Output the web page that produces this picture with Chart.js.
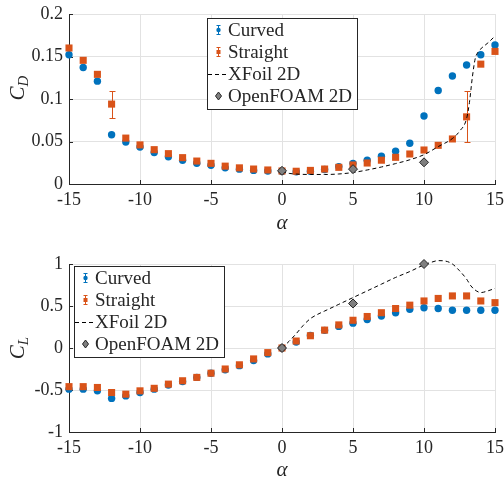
<!DOCTYPE html>
<html>
<head>
<meta charset="utf-8">
<script src="https://cdn.jsdelivr.net/npm/chart.js@4.4.1/dist/chart.umd.min.js"></script>
<style>
  html, body { margin: 0; padding: 0; background: #fff; }
  #wrap { position: relative; width: 504px; height: 480px; }
  canvas { position: absolute; left: 0; }
</style>
</head>
<body>
<div id="wrap">
  <canvas id="cd-chart" width="504" height="240" style="top:0"></canvas>
  <canvas id="cl-chart" width="504" height="240" style="top:240px"></canvas>
</div>
<script>
// angle of attack for the experiments
const alpha = [-15, -14, -13, -12, -11, -10, -9, -8, -7, -6, -5, -4, -3, -2, -1,
  0, 1, 2, 3, 4, 5, 6, 7, 8, 9, 10, 11, 12, 13, 14, 15];

const cdCurved = [0.152, 0.137, 0.121, 0.058, 0.0495, 0.0435, 0.037, 0.032, 0.028, 0.0245,
  0.022, 0.019, 0.0175, 0.016, 0.0153, 0.0148, 0.0145, 0.015, 0.017, 0.0205,
  0.0243, 0.028, 0.0326, 0.0385, 0.048, 0.080, 0.110, 0.127, 0.140, 0.152, 0.1635];
const cdStraight = [0.160, 0.1455, 0.129, 0.094, 0.054, 0.046, 0.0404, 0.0357, 0.031, 0.027,
  0.0243, 0.021, 0.019, 0.0176, 0.0165, 0.0153, 0.015, 0.016, 0.0176, 0.0196,
  0.0224, 0.0247, 0.028, 0.0314, 0.0353, 0.040, 0.0455, 0.053, 0.079, 0.141, 0.156];

const clCurved = [-0.49, -0.49, -0.51, -0.60, -0.57, -0.53, -0.49, -0.44, -0.40, -0.35,
  -0.30, -0.26, -0.21, -0.15, -0.07, 0.0, 0.07, 0.15, 0.21, 0.257,
  0.296, 0.34, 0.38, 0.42, 0.46, 0.48, 0.47, 0.45, 0.45, 0.45, 0.45];
const clStraight = [-0.46, -0.46, -0.47, -0.53, -0.55, -0.51, -0.48, -0.43, -0.39, -0.35,
  -0.30, -0.25, -0.20, -0.13, -0.055, 0.0, 0.083, 0.146, 0.213, 0.275,
  0.33, 0.375, 0.42, 0.47, 0.51, 0.56, 0.59, 0.62, 0.62, 0.56, 0.54];

// error bars on the straight blade drag
const errAlpha = [-12, 13];
const cdErrLow = [0.078, 0.049];
const cdErrHigh = [0.110, 0.109];

// XFoil 2D curves
const xfoilAlphaCD = [0, 0.5, 1, 2, 3, 4, 5, 6, 7, 8, 9, 10, 11, 12, 12.5, 13, 13.2, 13.4, 13.6, 13.8, 14, 14.5, 15];
const xfoilCD = [0.0145, 0.0125, 0.0117, 0.0112, 0.0112, 0.0118, 0.0135, 0.0165, 0.020, 0.024, 0.0285, 0.0345,
  0.044, 0.0535, 0.062, 0.077, 0.096, 0.125, 0.147, 0.155, 0.159, 0.166, 0.174];
const xfoilAlphaCL = [0, 0.5, 1, 1.5, 2, 2.5, 3, 4, 5, 6, 7, 8, 9, 10, 10.5, 11, 11.5, 12, 12.5, 13, 13.3, 13.6, 14, 14.5, 15];
const xfoilCL = [0, 0.08, 0.17, 0.27, 0.35, 0.40, 0.44, 0.52, 0.60, 0.68, 0.76, 0.84, 0.91, 0.99,
  1.02, 1.04, 1.035, 1.0, 0.92, 0.82, 0.74, 0.69, 0.66, 0.68, 0.71];

// OpenFOAM 2D
const ofAlpha = [0, 5, 10];
const ofCD = [0.0155, 0.0175, 0.0255];
const ofCL = [0, 0.53, 1.0];

const xTicks = [-15, -10, -5, 0, 5, 10, 15];
const cdTicks = [0, 0.05, 0.1, 0.15, 0.2];
const clTicks = [-1, -0.5, 0, 0.5, 1];

const BLUE = '#0072BD';
const ORANGE = '#D95319';
const DARK = '#262626';
const GRID = '#e2e2e2';
const FONT = '"Liberation Serif", "Times New Roman", serif';

function pts(xs, ys) {
  return xs.map((x, i) => ({ x: x, y: ys[i] }));
}

const errorBars = {
  id: 'errorBars',
  beforeDatasetDraw(chart, args) {
    const ds = chart.data.datasets[args.index];
    if (!ds.errAlpha) return;
    const xs = chart.scales.x, ys = chart.scales.y;
    const ctx = chart.ctx;
    ctx.save();
    ctx.strokeStyle = ds.borderColor;
    ctx.lineWidth = 1;
    ds.errAlpha.forEach((a, i) => {
      const px = Math.round(xs.getPixelForValue(a)) + 0.5;
      const y1 = Math.round(ys.getPixelForValue(ds.errLow[i])) + 0.5;
      const y2 = Math.round(ys.getPixelForValue(ds.errHigh[i])) + 0.5;
      ctx.beginPath();
      ctx.moveTo(px, y1); ctx.lineTo(px, y2);
      ctx.moveTo(px - 3, y1); ctx.lineTo(px + 3, y1);
      ctx.moveTo(px - 3, y2); ctx.lineTo(px + 3, y2);
      ctx.stroke();
    });
    ctx.restore();
  }
};

// small inward tick marks like the MATLAB axes
const innerTicks = {
  id: 'innerTicks',
  beforeDatasetsDraw(chart) {
    const { ctx, chartArea: a } = chart;
    const xs = chart.scales.x, ys = chart.scales.y;
    ctx.save();
    ctx.strokeStyle = DARK;
    ctx.lineWidth = 1;
    ctx.beginPath();
    xTicks.forEach(v => {
      const px = Math.round(xs.getPixelForValue(v)) + 0.5;
      ctx.moveTo(px, a.bottom); ctx.lineTo(px, a.bottom - 4);
    });
    ys.ticks.forEach(t => {
      const py = Math.round(ys.getPixelForValue(t.value)) + 0.5;
      ctx.moveTo(a.left, py); ctx.lineTo(a.left + 4, py);
    });
    ctx.stroke();
    ctx.restore();
  }
};

const axisTitles = {
  id: 'axisTitles',
  afterDraw(chart, args, opts) {
    const { ctx, chartArea: a } = chart;
    ctx.save();
    ctx.fillStyle = DARK;
    ctx.textBaseline = 'alphabetic';
    // y title, rotated, with subscript
    ctx.font = 'italic 21px ' + FONT;
    const wMain = ctx.measureText('C').width;
    ctx.font = 'italic 15px ' + FONT;
    const wSub = ctx.measureText(opts.sub).width;
    const total = wMain + wSub;
    ctx.translate(opts.yx, opts.yy);
    ctx.rotate(-Math.PI / 2);
    ctx.font = 'italic 21px ' + FONT;
    ctx.fillText('C', -total / 2, 0);
    ctx.font = 'italic 15px ' + FONT;
    ctx.fillText(opts.sub, -total / 2 + wMain, 4);
    ctx.setTransform(1, 0, 0, 1, 0, 0);
    // x title
    ctx.font = 'italic 21px ' + FONT;
    ctx.textAlign = 'center';
    ctx.fillText('α', (a.left + a.right) / 2, opts.xy);
    ctx.restore();
  }
};

const boxLegend = {
  id: 'boxLegend',
  afterDraw(chart, args, opts) {
    const ctx = chart.ctx;
    const items = chart.data.datasets.slice().sort((p, q) => q.order - p.order);
    const left = opts.left, top = opts.top, w = opts.width, rowH = 22;
    const h = rowH * items.length + 3;
    ctx.save();
    ctx.fillStyle = '#fff';
    ctx.fillRect(left, top, w, h);
    ctx.strokeStyle = DARK;
    ctx.lineWidth = 1;
    ctx.strokeRect(left + 0.5, top + 0.5, w, h);
    items.forEach((ds, i) => {
      const cy = top + 12 + rowH * i;
      const cx = left + 11;
      if (ds.legendIcon === 'errorbar') {
        ctx.strokeStyle = ds.borderColor;
        ctx.beginPath();
        ctx.moveTo(cx + 0.5, cy - 5); ctx.lineTo(cx + 0.5, cy + 5);
        ctx.moveTo(cx - 1.5, cy - 4.5); ctx.lineTo(cx + 2.5, cy - 4.5);
        ctx.moveTo(cx - 1.5, cy + 4.5); ctx.lineTo(cx + 2.5, cy + 4.5);
        ctx.stroke();
        ctx.fillStyle = ds.backgroundColor;
        if (ds.pointStyle === 'rect') {
          ctx.fillRect(cx - 1.5, cy - 2, 4, 4);
        } else {
          ctx.beginPath();
          ctx.arc(cx + 0.5, cy, 2.2, 0, Math.PI * 2);
          ctx.fill();
        }
      } else if (ds.legendIcon === 'line') {
        ctx.strokeStyle = ds.borderColor;
        ctx.setLineDash(ds.borderDash);
        ctx.beginPath();
        ctx.moveTo(left + 1, cy + 0.5); ctx.lineTo(left + 21, cy + 0.5);
        ctx.stroke();
        ctx.setLineDash([]);
      } else {
        ctx.fillStyle = ds.backgroundColor;
        ctx.strokeStyle = ds.borderColor;
        ctx.beginPath();
        ctx.moveTo(cx + 0.5, cy - 4); ctx.lineTo(cx + 3.5, cy);
        ctx.lineTo(cx + 0.5, cy + 4); ctx.lineTo(cx - 2.5, cy);
        ctx.closePath();
        ctx.fill(); ctx.stroke();
      }
      ctx.fillStyle = DARK;
      ctx.font = '19px ' + FONT;
      ctx.textBaseline = 'middle';
      ctx.fillText(ds.label, left + 21, cy + 1);
    });
    ctx.restore();
  }
};

function makeDatasets(curved, straight, xfAlpha, xf, of, withErr) {
  const straightSet = {
    label: 'Straight', data: pts(alpha, straight), pointStyle: 'rect', pointRadius: 5,
    backgroundColor: ORANGE, borderColor: ORANGE, borderWidth: 0, clip: 8, order: 3, legendIcon: 'errorbar'
  };
  if (withErr) {
    straightSet.errAlpha = errAlpha;
    straightSet.errLow = cdErrLow;
    straightSet.errHigh = cdErrHigh;
  }
  return [
    {
      label: 'Curved', data: pts(alpha, curved), pointStyle: 'circle', pointRadius: 3.7,
      backgroundColor: BLUE, borderColor: BLUE, borderWidth: 0, clip: 8, order: 4, legendIcon: 'errorbar'
    },
    straightSet,
    {
      label: 'XFoil 2D', data: pts(xfAlpha, xf), showLine: true, pointRadius: 0,
      borderColor: '#000', borderWidth: 1, borderDash: [4, 3], cubicInterpolationMode: 'monotone',
      clip: 12, order: 2, legendIcon: 'line'
    },
    {
      label: 'OpenFOAM 2D', data: pts(ofAlpha, of), pointStyle: 'rectRot', pointRadius: 4.5,
      backgroundColor: '#7f7f7f', borderColor: DARK, borderWidth: 1, clip: 12, order: 1, legendIcon: 'marker'
    }
  ];
}

function makeChart(id, datasets, yTicks, yMin, yMax, cfg) {
  return new Chart(document.getElementById(id), {
    type: 'scatter',
    data: { datasets: datasets },
    plugins: [errorBars, innerTicks, axisTitles, boxLegend],
    options: {
      responsive: false,
      animation: false,
      devicePixelRatio: 1,
      events: [],
      layout: { padding: { left: 0, right: 9, top: cfg.top, bottom: 0 } },
      scales: {
        x: {
          type: 'linear', min: -15, max: 15,
          afterBuildTicks: s => { s.ticks = xTicks.map(v => ({ value: v })); },
          afterFit: s => { s.height = cfg.xh; s.paddingLeft = 0; s.paddingRight = 0; },
          grid: { color: GRID, drawTicks: false },
          border: { color: DARK },
          ticks: {
            color: DARK, font: { family: FONT, size: 18 }, padding: 5,
            maxRotation: 0, autoSkip: false, callback: v => String(v)
          }
        },
        y: {
          type: 'linear', min: yMin, max: yMax,
          afterBuildTicks: s => { s.ticks = yTicks.map(v => ({ value: v })); },
          afterFit: s => { s.width = 69; s.paddingTop = 0; s.paddingBottom = 0; },
          grid: { color: GRID, drawTicks: false },
          border: { color: DARK },
          ticks: {
            color: DARK, font: { family: FONT, size: 18 }, padding: 6,
            autoSkip: false, callback: v => String(v)
          }
        }
      },
      plugins: {
        legend: { display: false },
        tooltip: { enabled: false },
        axisTitles: { sub: cfg.sub, yx: 24, yy: cfg.titleY, xy: cfg.alphaY },
        boxLegend: { left: cfg.legLeft, top: cfg.legTop, width: 150 }
      }
    }
  });
}

makeChart('cd-chart', makeDatasets(cdCurved, cdStraight, xfoilAlphaCD, xfoilCD, ofCD, true),
  cdTicks, 0, 0.2,
  { top: 14, xh: 56, sub: 'D', titleY: 88, alphaY: 229, legLeft: 207, legTop: 18 });

makeChart('cl-chart', makeDatasets(clCurved, clStraight, xfoilAlphaCL, xfoilCL, ofCL, false),
  clTicks, -1, 1,
  { top: 24, xh: 48, sub: 'L', titleY: 108, alphaY: 236, legLeft: 74, legTop: 26 });
</script>
</body>
</html>
